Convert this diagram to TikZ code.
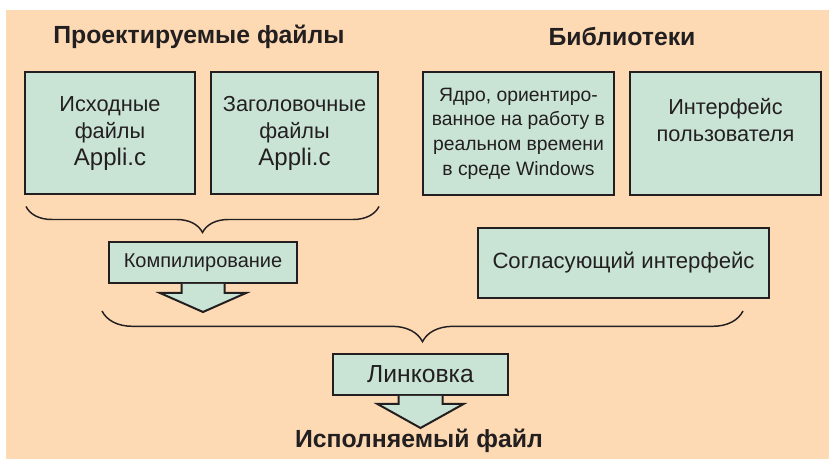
\documentclass[tikz,border=0pt]{standalone}
\usepackage{fontspec}
\setmainfont{Liberation Sans}
\usepackage{tikz}
\usetikzlibrary{calc,positioning,decorations.pathreplacing}

\definecolor{peach}{HTML}{FDDAB4}
\definecolor{mint}{HTML}{C9E4D5}
\definecolor{ink}{HTML}{231F20}

\begin{document}
\begin{tikzpicture}[x=0.75pt,y=-0.75pt,
		box/.style={draw=ink, line width=1.5pt, fill=mint, text=ink, align=center, inner sep=0pt, font=\fontsize{16.3}{20}\selectfont},
		heading/.style={text=ink, font=\bfseries\fontsize{18.6}{22}\selectfont},
		blockarrow/.style={draw=ink, line width=1.5pt, fill=mint, line join=miter},
		curly/.style={draw=ink, line width=1.1pt, decorate}]
			\fill[white] (0,0) rectangle (829,459);
			\fill[peach] (6,10) rectangle (829,459);
			\useasboundingbox (0,0) rectangle (829,459);

			\node[heading] (proj) at (199,37) {Проектируемые файлы};
			\node[heading] (lib) at (622,37) {Библиотеки};

			\node[box, minimum width=127.5pt, minimum height=91.5pt] (src) at (110,133.5) {Исходные\\файлы\\{\fontsize{18}{20}\selectfont Appli.c}};
			\node[box, minimum width=125.25pt, minimum height=91.5pt] (hdr) at (294.5,133.5) {Заголовочные\\файлы\\{\fontsize{18}{20}\selectfont Appli.c}};
			\node[box, minimum width=143.25pt, minimum height=92.25pt, font=\fontsize{14.5}{18.5}\selectfont] (core) at (518.5,133.5) {Ядро, ориентиро-\\ванное на работу в\\реальном времени\\в среде Windows};
			\node[box, minimum width=143.25pt, minimum height=92.25pt] (ui) at (725.5,133.5) {Интерфейс\\пользователя\\\mbox{}};

			\draw[curly, decoration={brace,mirror,amplitude=19.5pt}] ($(src.south west)+(2,11)$) -- ($(hdr.south east)+(0,11)$);

			\node[box, minimum width=141pt, minimum height=30.75pt, font=\fontsize{15}{18}\selectfont] (comp) at (203,262.5) {Компилирование};
			\node[box, minimum width=218.25pt, minimum height=52.5pt, font=\fontsize{16.6}{20}\selectfont] (match) at (623.5,263) {Согласующий интерфейс};

			\draw[blockarrow] (comp.south) ++(-21.5,0) -- ++(0,9) -- ++(-21.5,0) -- ++(43,19) -- ++(43,-19) -- ++(-21.5,0) -- ++(0,-9);

			\draw[curly, decoration={brace,mirror,amplitude=23pt}] (102,311) -- (743,311);

			\node[box, minimum width=131.25pt, minimum height=30.75pt, font=\fontsize{18.5}{22}\selectfont] (link) at (420.5,374.5) {Линковка};
			\draw[blockarrow] (link.south) ++(-22,0) -- ++(0,8) -- ++(-21,0) -- ++(43,24) -- ++(43,-24) -- ++(-21,0) -- ++(0,-8);

			\node[heading] (exe) at (419,441) {Исполняемый файл};
		\end{tikzpicture}
\end{document}
